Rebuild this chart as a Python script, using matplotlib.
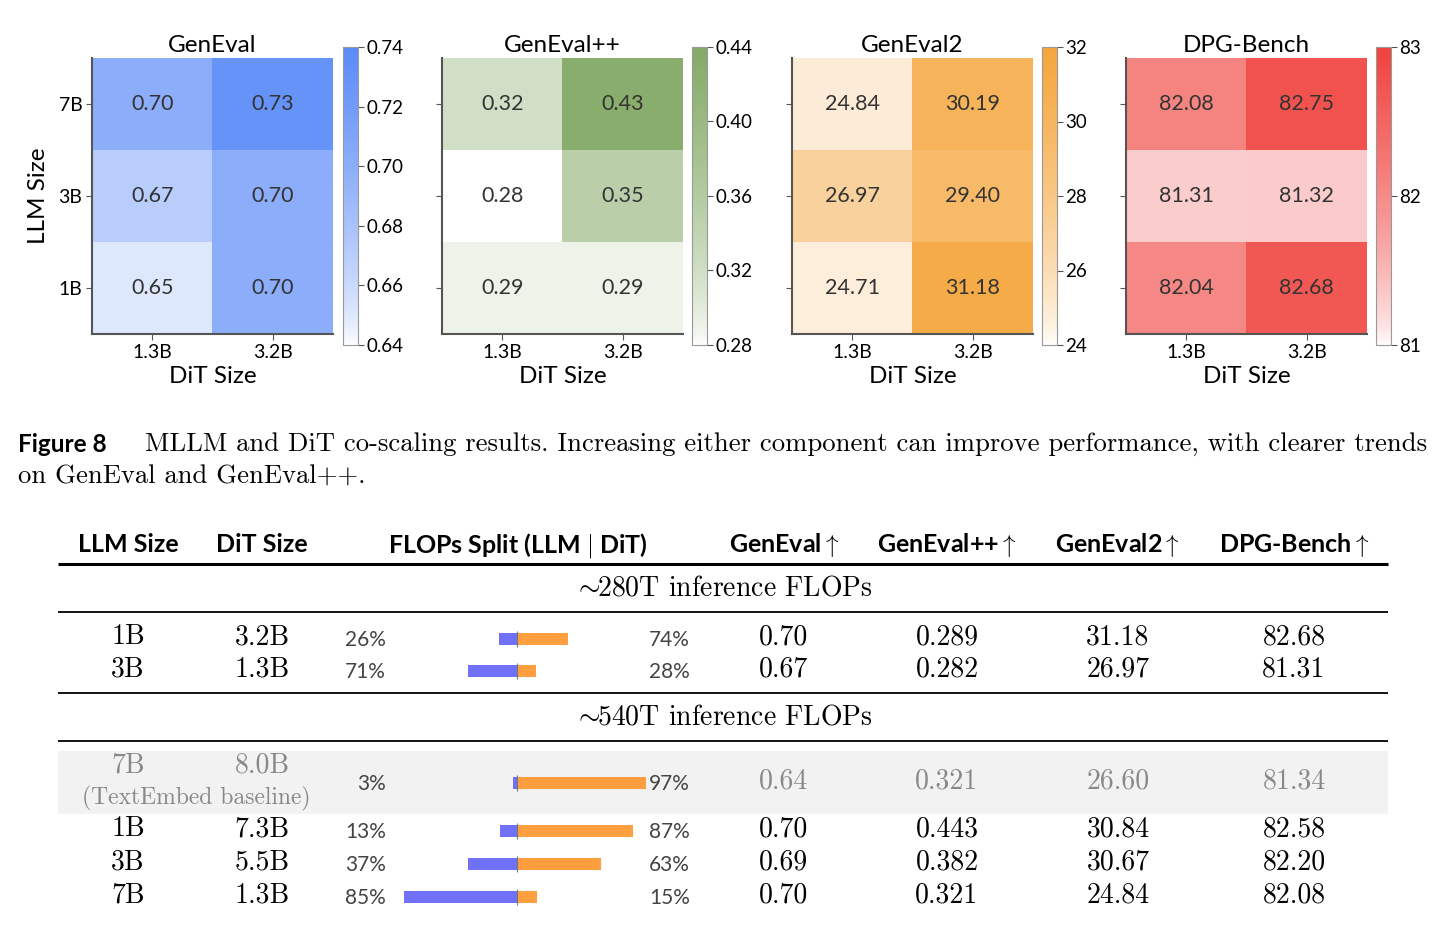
import numpy as np
import matplotlib.pyplot as plt
from matplotlib.colors import LinearSegmentedColormap

plt.rcParams['font.family'] = ['Lato', 'DejaVu Sans']
plt.rcParams['mathtext.fontset'] = 'cm'

W, H = 1446, 935

# heatmap data (rows: LLM 7B, 3B, 1B; cols: DiT 1.3B, 3.2B)
dit_sizes = ['1.3B', '3.2B']
llm_sizes = ['7B', '3B', '1B']
geneval = [[0.70, 0.73], [0.67, 0.70], [0.65, 0.70]]
geneval_pp = [[0.32, 0.43], [0.28, 0.35], [0.29, 0.29]]
geneval2 = [[24.84, 30.19], [26.97, 29.40], [24.71, 31.18]]
dpg = [[82.08, 82.75], [81.31, 81.32], [82.04, 82.68]]

panel_titles = ['GenEval', 'GenEval++', 'GenEval2', 'DPG-Bench']
panel_data = [geneval, geneval_pp, geneval2, dpg]
panel_colors = ['#5B8BF8', '#84AA66', '#F5A53A', '#F0423E']
panel_ranges = [(0.64, 0.74), (0.28, 0.44), (24, 32), (81, 83)]
panel_ticks = [[0.64, 0.66, 0.68, 0.70, 0.72, 0.74],
               [0.28, 0.32, 0.36, 0.40, 0.44],
               [24, 26, 28, 30, 32],
               [81, 82, 83]]
panel_tickfmt = ['{:.2f}', '{:.2f}', '{:.0f}', '{:.0f}']

# table data
llm_col = ['1B', '3B', '7B', '1B', '3B', '7B']
dit_col = ['3.2B', '1.3B', '8.0B', '7.3B', '5.5B', '1.3B']
llm_pct = [26, 71, 3, 13, 37, 85]
dit_pct = [74, 28, 97, 87, 63, 15]
total_tflops = [280, 280, 540, 540, 540, 540]
t_geneval = [0.70, 0.67, 0.64, 0.70, 0.69, 0.70]
t_genevalpp = [0.289, 0.282, 0.321, 0.443, 0.382, 0.321]
t_geneval2 = [31.18, 26.97, 26.60, 30.84, 30.67, 24.84]
t_dpg = [82.68, 81.31, 81.34, 82.58, 82.20, 82.08]
baseline_row = 2


def rect(x, y, w, h):
    # pixel box from top-left -> figure fraction
    return [x / W, 1 - (y + h) / H, w / W, h / H]


fig = plt.figure(figsize=(W / 100, H / 100), dpi=100)

hm_left = [92, 442, 792, 1126]
cb_left = [343, 692, 1042, 1376]
for i in range(4):
    ax = fig.add_axes(rect(hm_left[i], 58, 241, 276))
    cmap = LinearSegmentedColormap.from_list('c%d' % i, ['#FFFFFF', panel_colors[i]], gamma=0.7)
    vmin, vmax = panel_ranges[i]
    im = ax.imshow(np.array(panel_data[i]), cmap=cmap, vmin=vmin, vmax=vmax, aspect='auto')
    for r in range(3):
        for c in range(2):
            ax.text(c, r, '{:.2f}'.format(panel_data[i][r][c]), ha='center', va='center',
                    fontsize=15.5, color='#333333')
    ax.set_xticks(range(2))
    ax.set_xticklabels(dit_sizes, fontsize=14)
    ax.set_yticks(range(3))
    if i == 0:
        ax.set_yticklabels(llm_sizes, fontsize=14)
        ax.set_ylabel('LLM Size', fontsize=17.5, labelpad=7)
    else:
        ax.set_yticklabels([])
    ax.set_xlabel('DiT Size', fontsize=17.5, labelpad=4)
    ax.set_title(panel_titles[i], fontsize=17.5, pad=4)
    for s in ['top', 'right']:
        ax.spines[s].set_visible(False)
    for s in ['left', 'bottom']:
        ax.spines[s].set_color('#555555')
        ax.spines[s].set_linewidth(1.5)
    ax.tick_params(length=4, color='#555555', pad=3)

    cax = fig.add_axes(rect(cb_left[i], 47, 15, 298))
    cb = fig.colorbar(im, cax=cax, ticks=panel_ticks[i])
    cb.ax.set_yticklabels([panel_tickfmt[i].format(t) for t in panel_ticks[i]])
    cb.outline.set_edgecolor('#999999')
    cb.ax.tick_params(length=4, labelsize=13.5, color='#555555', pad=2)

# caption + table overlay
ax_t = fig.add_axes([0, 0, 1, 1])
ax_t.set_xlim(0, W)
ax_t.set_ylim(H, 0)
ax_t.axis('off')

serif = 'cmr10'
fs = 20
ax_t.text(18, 444, 'Figure 8', fontsize=17.5, fontweight='bold', va='center', ha='left')
ax_t.text(145, 444, 'MLLM and DiT co-scaling results. Increasing either component can improve '
          'performance, with clearer trends', fontfamily=serif, fontsize=19.2, va='center', ha='left')
ax_t.text(18, 477, 'on GenEval and GenEval++.', fontfamily=serif, fontsize=19.2, va='center', ha='left')

# table headers
hy = 545
col_x = {'llm': 128, 'dit': 262, 'split': 518, 'ge': 784, 'gepp': 947, 'ge2': 1118, 'dpg': 1294}
hdr = [('llm', 'LLM Size'), ('dit', 'DiT Size'), ('split', 'FLOPs Split (LLM $|$ DiT)'),
       ('ge', 'GenEval$\\uparrow$'), ('gepp', 'GenEval++$\\uparrow$'),
       ('ge2', 'GenEval2$\\uparrow$'), ('dpg', 'DPG-Bench$\\uparrow$')]
for k, t in hdr:
    ax_t.text(col_x[k], hy, t, fontsize=18, fontweight='bold', ha='center', va='center')

# rules
ax_t.hlines(564, 58, 1388, color='black', lw=2.2)
for yy in [612, 693, 741]:
    ax_t.hlines(yy, 58, 1388, color='black', lw=1.3)
ax_t.fill_between([58, 1388], 751, 814, color='#F2F2F2', lw=0, zorder=0)

ax_t.text(723, 588, '${\\sim}\\!\\!$280T inference FLOPs', fontfamily=serif, fontsize=fs,
          ha='center', va='center')
ax_t.text(723, 717, '${\\sim}\\!\\!$540T inference FLOPs', fontfamily=serif, fontsize=fs,
          ha='center', va='center')

row_y = [637, 669, 781, 829, 862, 895]
for j in range(len(row_y)):
    y = row_y[j]
    col = '#888888' if j == baseline_row else 'black'
    if j == baseline_row:
        ax_t.text(col_x['llm'], 765, llm_col[j], fontfamily=serif, fontsize=fs, color=col,
                  ha='center', va='center')
        ax_t.text(col_x['dit'], 765, dit_col[j], fontfamily=serif, fontsize=fs, color=col,
                  ha='center', va='center')
        ax_t.text(196, 798, '(TextEmbed baseline)', fontfamily=serif, fontsize=17, color=col,
                  ha='center', va='center')
    else:
        ax_t.text(col_x['llm'], y, llm_col[j], fontfamily=serif, fontsize=fs, color=col,
                  ha='center', va='center')
        ax_t.text(col_x['dit'], y, dit_col[j], fontfamily=serif, fontsize=fs, color=col,
                  ha='center', va='center')
    ax_t.text(col_x['ge'], y, '{:.2f}'.format(t_geneval[j]), fontfamily=serif, fontsize=fs,
              color=col, ha='center', va='center')
    ax_t.text(col_x['gepp'], y, '{:.3f}'.format(t_genevalpp[j]), fontfamily=serif, fontsize=fs,
              color=col, ha='center', va='center')
    ax_t.text(col_x['ge2'], y, '{:.2f}'.format(t_geneval2[j]), fontfamily=serif, fontsize=fs,
              color=col, ha='center', va='center')
    ax_t.text(col_x['dpg'], y, '{:.2f}'.format(t_dpg[j]), fontfamily=serif, fontsize=fs,
              color=col, ha='center', va='center')
    ax_t.text(386, y + 3, '%d%%' % llm_pct[j], fontsize=15, color='#444444', ha='right', va='center')
    ax_t.text(649, y + 3, '%d%%' % dit_pct[j], fontsize=15, color='#444444', ha='left', va='center')

# FLOPs split bars, length = share of total inference TFLOPs
k = 0.246
span = 560
ax_b = fig.add_axes(rect(517 - span * k, 0, 2 * span * k, H))
ax_b.set_xlim(-span, span)
ax_b.set_ylim(H, 0)
ax_b.axis('off')
llm_tf = np.array(llm_pct) / 100 * np.array(total_tflops)
dit_tf = np.array(dit_pct) / 100 * np.array(total_tflops)
bar_y = np.array(row_y) + 2
ax_b.barh(bar_y, -llm_tf, height=12, color='#7070F8')
ax_b.barh(bar_y, dit_tf, height=12, color='#FF9E3E')
ax_b.vlines(np.zeros(len(bar_y)), bar_y - 8, bar_y + 8, color='#777777', lw=0.8)

fig.savefig('out.png', dpi=100)
